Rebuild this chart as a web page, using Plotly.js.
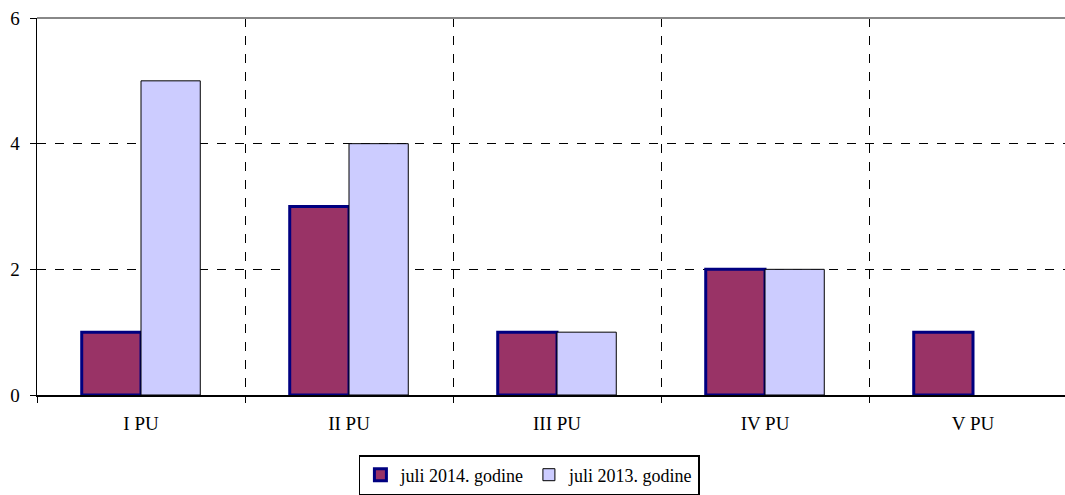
<!DOCTYPE html>
<html><head><meta charset="utf-8">
<script src="https://cdn.plot.ly/plotly-3.0.1.min.js"></script>
<style>html,body{margin:0;padding:0;overflow:hidden;background:#fff}</style>
</head><body>
<div id="chart" style="width:1065px;height:495px"></div>
<script>
const categories = ["I PU", "II PU", "III PU", "IV PU", "V PU"];
const series2014 = [1, 3, 1, 2, 1];
const series2013 = [5, 4, 1, 2, null];
const seriesNames = ["juli 2014. godine", "juli 2013. godine"];
const yTicks = [0, 2, 4, 6];

const font = {family: "Liberation Serif, Times New Roman, serif", size: 19, color: "#000"};
const legendFont = {family: "Liberation Serif, Times New Roman, serif", size: 18, color: "#000"};

const data = [
  {type: "bar", x: categories, y: series2014, name: seriesNames[0],
   marker: {color: "#993366", line: {color: "#000080", width: 3}}},
  {type: "bar", x: categories, y: series2013, name: seriesNames[1],
   marker: {color: "#CCCCFF", line: {color: "#000000", width: 1}}}
];

const layout = {
  width: 1065, height: 495,
  margin: {l: 37, r: 0, t: 18, b: 100},
  paper_bgcolor: "#fff", plot_bgcolor: "#fff",
  font: font,
  barmode: "group", bargap: 0.43, bargroupgap: 0,
  xaxis: {
    type: "category", tickson: "boundaries", automargin: false,
    range: [-0.5, 4.4423],
    showgrid: true, gridcolor: "#000", griddash: "dash", gridwidth: 1,
    showline: true, linecolor: "#000", linewidth: 1.5,
    ticks: "outside", ticklen: 6, tickcolor: "#000",
    tickfont: font, zeroline: false, ticklabelstandoff: 11
  },
  yaxis: {
    range: [0, 6], tickvals: yTicks, ticktext: yTicks.map(String), automargin: false,
    showgrid: true, gridcolor: "#000", griddash: "dash", gridwidth: 1,
    showline: true, linecolor: "#000", linewidth: 1.5,
    ticks: "outside", ticklen: 6, tickcolor: "#000",
    tickfont: font, zeroline: false, ticklabelstandoff: 6
  },
  shapes: [
    {type: "line", xref: "paper", yref: "paper", x0: 0, x1: 1, y0: 1, y1: 1,
     line: {color: "#888", width: 2}}
  ],
  showlegend: true,
  legend: {
    orientation: "h", x: 0.479, xanchor: "center", y: -0.16, yanchor: "top",
    bordercolor: "#000", borderwidth: 1.5, font: legendFont,
    itemwidth: 30, tracegroupgap: 0
  }
};

Plotly.newPlot("chart", data, layout, {displayModeBar: false, staticPlot: true});
</script>
</body></html>
